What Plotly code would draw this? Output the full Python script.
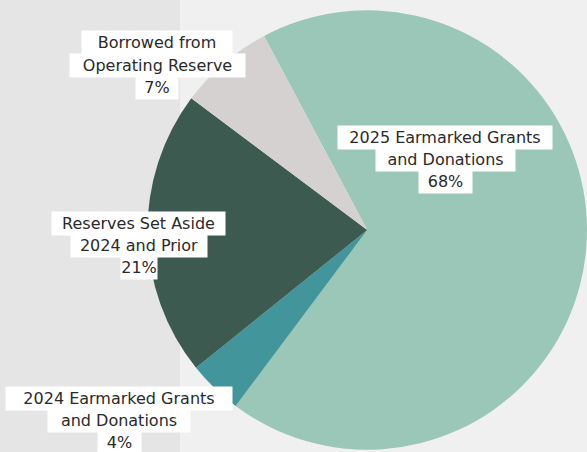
import plotly.graph_objects as go

# ---- data ----
categories = [
    "2025 Earmarked Grants<br>and Donations",
    "2024 Earmarked Grants<br>and Donations",
    "Reserves Set Aside<br>2024 and Prior",
    "Borrowed from<br>Operating Reserve",
]
values = [68, 4, 21, 7]
colors = ["#9ac7b7", "#42959a", "#3d5a50", "#d5d1d0"]

# ---- layout helpers (pixel positions of label blocks) ----
W, H = 587, 452
label_centers_x = [445, 119, 138.5, 157]
label_first_line_y = [137, 398, 223, 43]
line_step = 22
box_widths = [[214, 139, 53], [226, 142, 43], [173, 136, 36], [150, 175, 42]]

fig = go.Figure()
fig.add_trace(go.Pie(
    labels=[c.replace("<br>", " ") for c in categories],
    values=values,
    marker=dict(colors=colors, line=dict(width=0)),
    sort=False,
    direction="clockwise",
    rotation=-28,
    textinfo="none",
    hoverinfo="label+percent",
    showlegend=False,
    domain=dict(x=[147.5 / W, 1.0], y=[1 - 450 / H, 1 - 10 / H]),
))

total = sum(values)
annotations = []
for i, cat in enumerate(categories):
    pct = round(100 * values[i] / total)
    lines = cat.split("<br>") + [f"{pct}%"]
    for j, line in enumerate(lines):
        py = label_first_line_y[i] + j * line_step
        annotations.append(dict(
            x=label_centers_x[i] / W, y=1 - py / H,
            xref="paper", yref="paper",
            xanchor="center", yanchor="middle",
            text=line, showarrow=False,
            bgcolor="white", borderpad=0,
            width=box_widths[i][j], height=23,
            align="center",
            font=dict(family="DejaVu Sans, Open Sans, sans-serif", size=16, color="#2a2a2a"),
        ))

fig.update_layout(
    width=W, height=H,
    margin=dict(l=0, r=0, t=0, b=0),
    paper_bgcolor="#f0f0f0",
    plot_bgcolor="#f0f0f0",
    shapes=[dict(type="rect", xref="paper", yref="paper",
                 x0=0, x1=180 / W, y0=0, y1=1,
                 fillcolor="#e5e5e5", line=dict(width=0), layer="below")],
    annotations=annotations,
)

fig.write_html(
    "out.html",
    config={"displayModeBar": False},
    post_script="document.body.style.margin='0';document.body.style.padding='0';"
                "document.body.style.overflow='hidden';document.body.style.background='#f0f0f0';",
)
